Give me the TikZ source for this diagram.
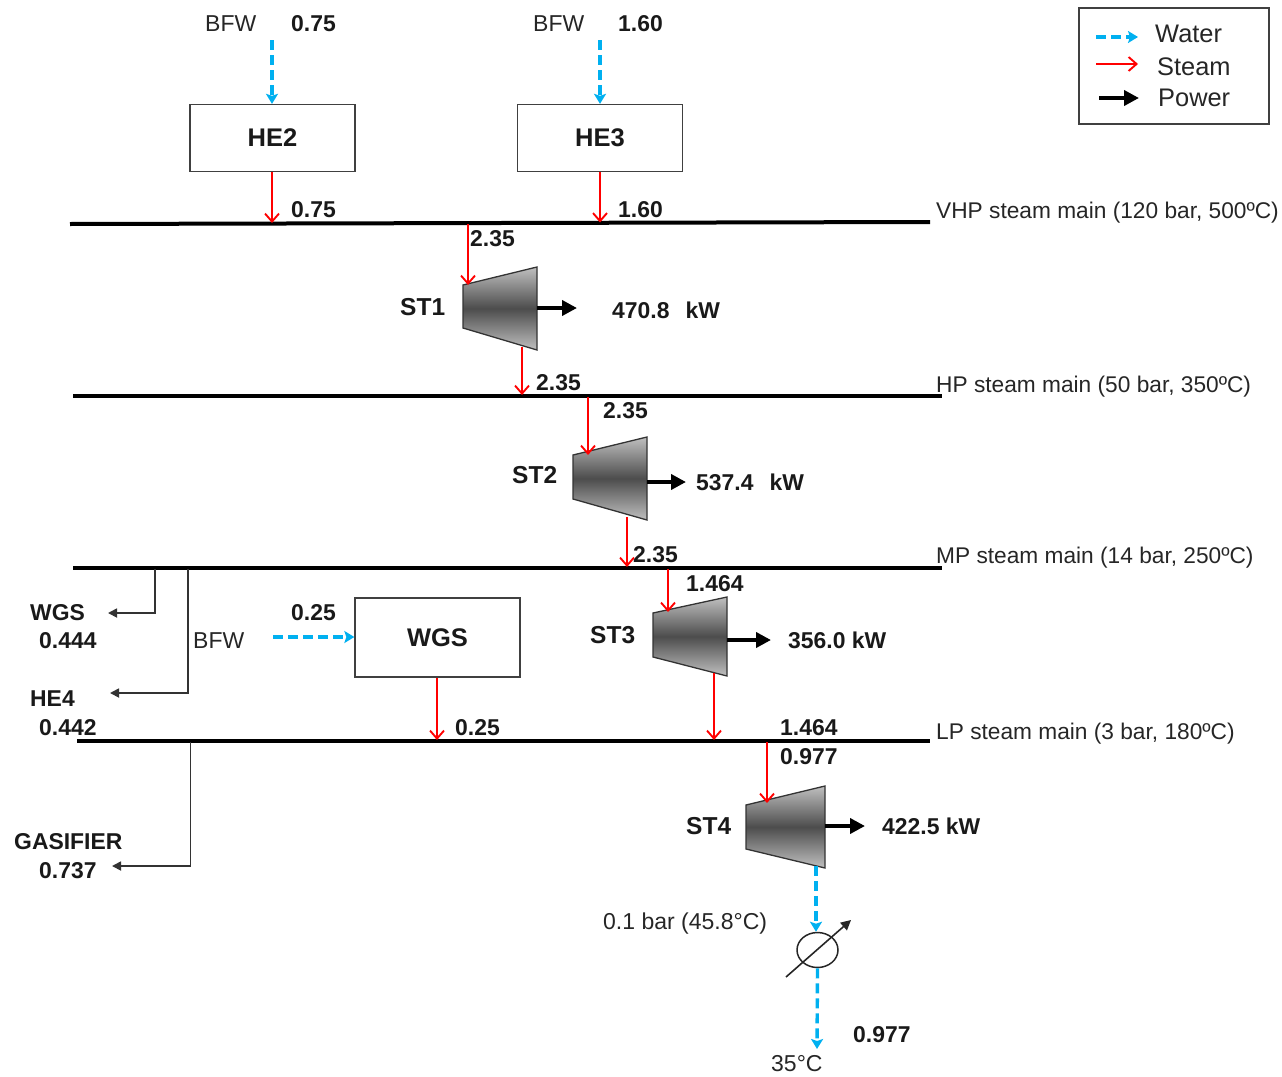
\documentclass[tikz,border=0pt]{standalone}
\usepackage{fontspec}
\setmainfont{Liberation Sans}
\usetikzlibrary{arrows.meta,shapes.geometric}
\definecolor{waterblue}{HTML}{00B0F0}
\definecolor{txt}{HTML}{262626}
\tikzset{
  lab/.style={anchor=mid west,yshift=-6pt,inner sep=0pt,font=\fontsize{22.7}{26}\selectfont,text=txt},
  slab/.style={lab,font=\fontsize{23}{26}\selectfont},
  legtxt/.style={lab,font=\fontsize{25.4}{27}\selectfont},
  blab/.style={anchor=mid west,yshift=-6pt,inner sep=0pt,font=\fontsize{22.9}{26}\selectfont\bfseries,text=black!90},
  stlab/.style={blab,font=\fontsize{24.5}{26}\selectfont\bfseries},
  cblab/.style={anchor=center,inner sep=0pt,font=\fontsize{25.5}{28}\selectfont\bfseries,text=black!90},
  equip/.style={draw=black!75,line width=1.3pt,fill=white,minimum width=165pt,inner sep=0pt},
  mainline/.style={line width=4pt,black},
  steam/.style={red,line width=2.2pt,-{Straight Barb[length=8pt,width=14pt,line width=1.9pt]}},
  water/.style={waterblue,line width=3.4pt,dash pattern=on 10pt off 5pt,-{Stealth[length=10pt,width=12pt,inset=2pt]}},
  power/.style={black,line width=4.2pt,-{Triangle[length=15pt,width=15pt]}},
  branch/.style={black!80,line width=1.7pt,-{Triangle[length=9pt,width=9pt]}},
  turb/.style={draw=black!80,line width=1.3pt,top color=black!25,bottom color=black!25,middle color=black!70},
}
\begin{document}
\begin{tikzpicture}[x=1pt,y=-1pt]
\useasboundingbox (0,0) rectangle (1282,1076);
% mains
\coordinate (vhpL) at (70,224); \coordinate (vhpR) at (930,222);
\coordinate (hpL) at (73,396); \coordinate (hpR) at (942,396);
\coordinate (mpL) at (73,568); \coordinate (mpR) at (942,568);
\coordinate (lpL) at (77,741); \coordinate (lpR) at (930,741);
\draw[mainline] (vhpL) -- (vhpR);
\draw[mainline] (hpL) -- (hpR);
\draw[mainline] (mpL) -- (mpR);
\draw[mainline] (lpL) -- (lpR);
% equipment
\node[equip,minimum height=67pt,cblab] (he2) at (272.5,138) {HE2};
\node[equip,minimum height=67pt,cblab] (he3) at (600,138) {HE3};
\node[equip,minimum height=79pt,cblab] (wgs) at (437.5,637.5) {WGS};
% turbines
\draw[turb] (463,285) -- (537,267) -- (537,350) -- (463,328) -- cycle;
\draw[turb] (573,455) -- (647,437) -- (647,520) -- (573,499) -- cycle;
\draw[turb] (653,613) -- (727,597) -- (727,676) -- (653,657) -- cycle;
\draw[turb] (746,805) -- (825,786) -- (825,868) -- (746,849) -- cycle;
\coordinate (t1in) at (468,285); \coordinate (t1out) at (522,347); \coordinate (t1p) at (537,308);
\coordinate (t2in) at (588,455); \coordinate (t2out) at (627,517); \coordinate (t2p) at (647,482);
\coordinate (t3in) at (668,612); \coordinate (t3out) at (714,673); \coordinate (t3p) at (727,640);
\coordinate (t4in) at (767,803); \coordinate (t4out) at (816,866); \coordinate (t4p) at (825,826);
% free ends
\coordinate (b1) at (272,40); \coordinate (b2) at (600,40); \coordinate (b3) at (273,637);
\coordinate (m1) at (272,223); \coordinate (m2) at (600,222.5); \coordinate (m3) at (468,224);
\coordinate (m4) at (522,395); \coordinate (m5) at (588,397); \coordinate (m6) at (627,567);
\coordinate (m7) at (668,569); \coordinate (m8) at (437,740); \coordinate (m9) at (714,740);
\coordinate (m10) at (767,742);
\coordinate (p1) at (577,308); \coordinate (p2) at (686,482); \coordinate (p3) at (771,640); \coordinate (p4) at (865,826);
% water
\draw[water] (b1) -- (he2.north -| b1);
\draw[water] (b2) -- (he3.north -| b2);
\draw[water] (b3) -- (wgs.west |- b3);
% steam
\draw[steam] (he2.south -| m1) -- (m1);
\draw[steam] (he3.south -| m2) -- (m2);
\draw[steam] (m3) -- (t1in);
\draw[steam] (t1out) -- (m4);
\draw[steam] (m5) -- (t2in);
\draw[steam] (t2out) -- (m6);
\draw[steam] (m7) -- (t3in);
\draw[steam] (wgs.south -| m8) -- (m8);
\draw[steam] (t3out) -- (m9);
\draw[steam] (m10) -- (t4in);
% power
\draw[power] (t1p) -- (p1);
\draw[power] (t2p) -- (p2);
\draw[power] (t3p) -- (p3);
\draw[power] (t4p) -- (p4);
% branches
\coordinate (x1) at (155,569); \coordinate (y1) at (108,613);
\coordinate (x2) at (188,569); \coordinate (y2) at (110,693);
\coordinate (x3) at (190.5,742); \coordinate (y3) at (112,866);
\draw[branch] (x1) |- (y1);
\draw[branch] (x2) |- (y2);
\draw[branch] (x3) |- (y3);
% condenser
\node[draw=black!85,line width=1.5pt,ellipse,minimum width=41pt,minimum height=35pt,inner sep=0pt] (cond) at (817.5,950) {};
\coordinate (ca) at (786,977); \coordinate (cb) at (851,920); \coordinate (ce) at (817,1049);
\draw[black!85,line width=1.6pt,-{Triangle[length=10pt,width=10pt]}] (ca) -- (cb);
\draw[water] (t4out) -- (cond.north -| t4out);
\draw[water] (cond.south) -- (ce);
% legend
\node[draw=black!75,line width=1.3pt,minimum width=190pt,minimum height=116pt,inner sep=0pt] (leg) at (1174,66) {};
\coordinate (l1a) at (1096,37); \coordinate (l1b) at (1138,37);
\coordinate (l2a) at (1096,64); \coordinate (l2b) at (1138,64);
\coordinate (l3a) at (1099,98); \coordinate (l3b) at (1139,98);
\draw[water] (l1a) -- (l1b);
\draw[steam] (l2a) -- (l2b);
\draw[power] (l3a) -- (l3b);
\node[legtxt] (tw) at (1155,34) {Water};
\node[legtxt] (ts) at (1157,67) {Steam};
\node[legtxt] (tp) at (1158,98) {Power};
% texts
\node[slab] (n1) at (205,23) {BFW};
\node[blab] (n2) at (291,23) {0.75};
\node[slab] (n3) at (533,23) {BFW};
\node[blab] (n4) at (618,23) {1.60};
\node[blab] (n5) at (291,209) {0.75};
\node[blab] (n6) at (618,209) {1.60};
\node[lab] (n7) at (936,210) {VHP steam main (120 bar, 500ºC)};
\node[blab] (n8) at (470,238) {2.35};
\node[stlab] (n9) at (400,307) {ST1};
\node[blab] (n10) at (612,310) {470.8\hspace{0.7em}kW};
\node[blab] (n11) at (536,382) {2.35};
\node[lab] (n12) at (936,384) {HP steam main (50 bar, 350ºC)};
\node[blab] (n13) at (603,410) {2.35};
\node[stlab] (n14) at (512,475) {ST2};
\node[blab] (n15) at (696,482) {537.4\hspace{0.7em}kW};
\node[blab] (n16) at (633,554) {2.35};
\node[lab] (n17) at (936,555) {MP steam main (14 bar, 250ºC)};
\node[blab] (n18) at (686,583) {1.464};
\node[stlab] (n19) at (590,635) {ST3};
\node[blab] (n20) at (788,640) {356.0 kW};
\node[blab] (n21) at (30,612) {WGS};
\node[blab] (n22) at (39,640) {0.444};
\node[slab] (n23) at (193,640) {BFW};
\node[blab] (n24) at (291,612) {0.25};
\node[blab] (n25) at (30,698) {HE4};
\node[blab] (n26) at (39,727) {0.442};
\node[blab] (n27) at (455,727) {0.25};
\node[blab] (n28) at (780,727) {1.464};
\node[lab] (n29) at (936,731) {LP steam main (3 bar, 180ºC)};
\node[blab] (n30) at (780,756) {0.977};
\node[stlab] (n31) at (686,826) {ST4};
\node[blab] (n32) at (882,826) {422.5 kW};
\node[blab] (n33) at (14,841) {GASIFIER};
\node[blab] (n34) at (39,870) {0.737};
\node[slab] (n35) at (603,921) {0.1 bar (45.8°C)};
\node[blab] (n36) at (853,1034) {0.977};
\node[slab] (n37) at (771,1063) {35°C};
\end{tikzpicture}
\end{document}
